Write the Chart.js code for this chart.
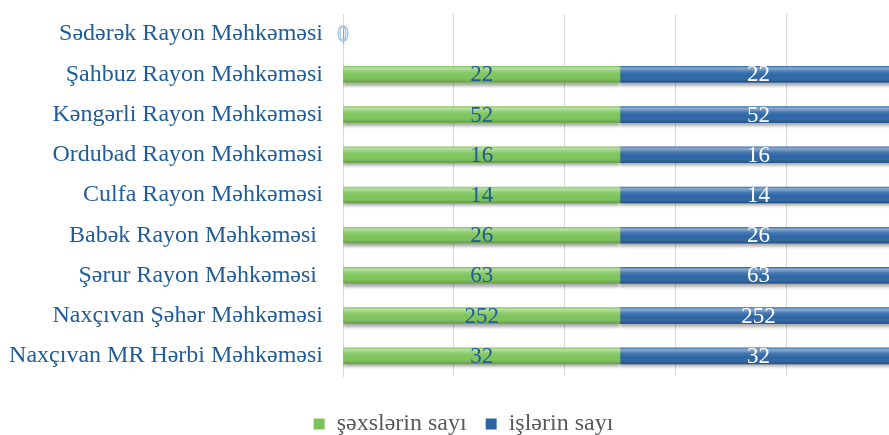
<!DOCTYPE html>
<html>
<head>
<meta charset="utf-8">
<script src="https://cdn.jsdelivr.net/npm/chart.js@4"></script>
<style>
  html, body { margin: 0; padding: 0; background: #fff; overflow: hidden; }
  #wrap { width: 926px; height: 435px; position: relative; }
</style>
</head>
<body>
<div id="wrap"><canvas id="myChart"></canvas></div>
<script>
const categories = [
    'Sədərək Rayon Məhkəməsi',
    'Şahbuz Rayon Məhkəməsi',
    'Kəngərli Rayon Məhkəməsi',
    'Ordubad Rayon Məhkəməsi',
    'Culfa Rayon Məhkəməsi',
    'Babək Rayon Məhkəməsi ',
    'Şərur Rayon Məhkəməsi ',
    'Naxçıvan Şəhər Məhkəməsi',
    'Naxçıvan MR Hərbi Məhkəməsi'
]
const sexslerinSayi = [0, 22, 52, 16, 14, 26, 63, 252, 32]
const islerinSayi = [0, 22, 52, 16, 14, 26, 63, 252, 32]
const seriesNames = ['şəxslərin sayı', 'işlərin sayı']
const raw = [sexslerinSayi, islerinSayi]

// 100% stacked -> share of each row
function share(arr, i) {
    const total = sexslerinSayi[i] + islerinSayi[i]
    return total ? arr[i] / total * 100 : 0
}
const pctSexs = sexslerinSayi.map((v, i) => share(sexslerinSayi, i))
const pctIsler = islerinSayi.map((v, i) => share(islerinSayi, i))

const serif = "'Liberation Serif', 'Times New Roman', 'DejaVu Serif', serif"
const labelBlue = '#1f5c99'

// shadow under bars
const shadowPlugin = {
    id: 'barShadow',
    afterLayout(chart) {
        // nudge legend to where the original sits
        const lg = chart.legend
        lg.left += 15; lg.right += 15
        lg.top += 11; lg.bottom += 11
    },
    beforeDatasetsDraw(chart) {
        const c = chart.ctx
        c.save()
        c.shadowColor = 'rgba(0,0,0,0.35)'
        c.shadowBlur = 3
        c.shadowOffsetY = 3
    },
    afterDatasetsDraw(chart) {
        chart.ctx.restore()
    }
}

// bevel highlight + value labels
const barLabels = {
    id: 'barLabels',
    afterDatasetsDraw(chart) {
        const c = chart.ctx
        chart.data.datasets.forEach((ds, di) => {
            const meta = chart.getDatasetMeta(di)
            meta.data.forEach((el, i) => {
                const p = el.getProps(['x', 'y', 'base', 'height'], true)
                const left = Math.min(p.x, p.base)
                const w = Math.abs(p.x - p.base)
                const top = p.y - p.height / 2
                if (w > 0) {
                    c.save()
                    const g = c.createLinearGradient(0, top, 0, top + p.height)
                    g.addColorStop(0, 'rgba(255,255,255,0.15)')
                    g.addColorStop(0.12, 'rgba(255,255,255,0.45)')
                    g.addColorStop(0.35, 'rgba(255,255,255,0.12)')
                    g.addColorStop(0.6, 'rgba(255,255,255,0)')
                    g.addColorStop(1, 'rgba(0,0,0,0.22)')
                    c.fillStyle = g
                    c.fillRect(left, top, w, p.height)
                    c.restore()
                }
                c.save()
                c.font = '23px ' + serif
                c.textAlign = 'center'
                c.textBaseline = 'middle'
                const v = raw[di][i]
                if (v === 0) {
                    c.strokeStyle = '#a9c8e6'
                    c.lineWidth = 1
                    c.strokeText('0', p.base, p.y + 1)
                } else {
                    c.fillStyle = di === 0 ? labelBlue : '#ffffff'
                    c.fillText(String(v), (p.x + p.base) / 2, p.y + 1)
                }
                c.restore()
            })
        })
    }
}

const ctx = document.getElementById('myChart')
const chart = new Chart(ctx, {
    type: 'bar',
    data: {
        labels: categories,
        datasets: [{
            label: seriesNames[0],
            data: pctSexs,
            backgroundColor: '#7cc459',
            borderWidth: 0,
            barThickness: 16
        }, {
            label: seriesNames[1],
            data: pctIsler,
            backgroundColor: '#2b65a6',
            borderWidth: 0,
            barThickness: 16
        }]
    },
    options: {
        indexAxis: 'y',
        responsive: true,
        maintainAspectRatio: false,
        animation: false,
        layout: { padding: { top: 14, right: 29, left: 0, bottom: 0 } },
        scales: {
            x: {
                stacked: true,
                min: 0,
                max: 100,
                ticks: { display: false, stepSize: 20 },
                grid: { color: '#d9d9d9', drawTicks: false },
                border: { display: false },
                afterFit(scale) {
                    scale.height = 24
                    scale.paddingLeft = 0
                    scale.paddingRight = 0
                }
            },
            y: {
                stacked: true,
                grid: { display: false, drawTicks: false },
                border: { display: true, color: '#d9d9d9' },
                ticks: {
                    color: labelBlue,
                    padding: 20,
                    font: { family: serif, size: 24 }
                },
                afterFit(scale) {
                    scale.width = 343
                    scale.paddingTop = 0
                    scale.paddingBottom = 0
                }
            }
        },
        plugins: {
            tooltip: { enabled: false },
            legend: {
                position: 'bottom',
                labels: {
                    color: '#595959',
                    boxWidth: 11,
                    boxHeight: 11,
                    padding: 1,
                    font: { family: serif, size: 24 },
                    generateLabels(ch) {
                        const items = Chart.defaults.plugins.legend.labels.generateLabels(ch)
                        items[0].text = items[0].text + '   '
                        return items
                    }
                }
            }
        }
    },
    plugins: [shadowPlugin, barLabels]
})
</script>
</body>
</html>
